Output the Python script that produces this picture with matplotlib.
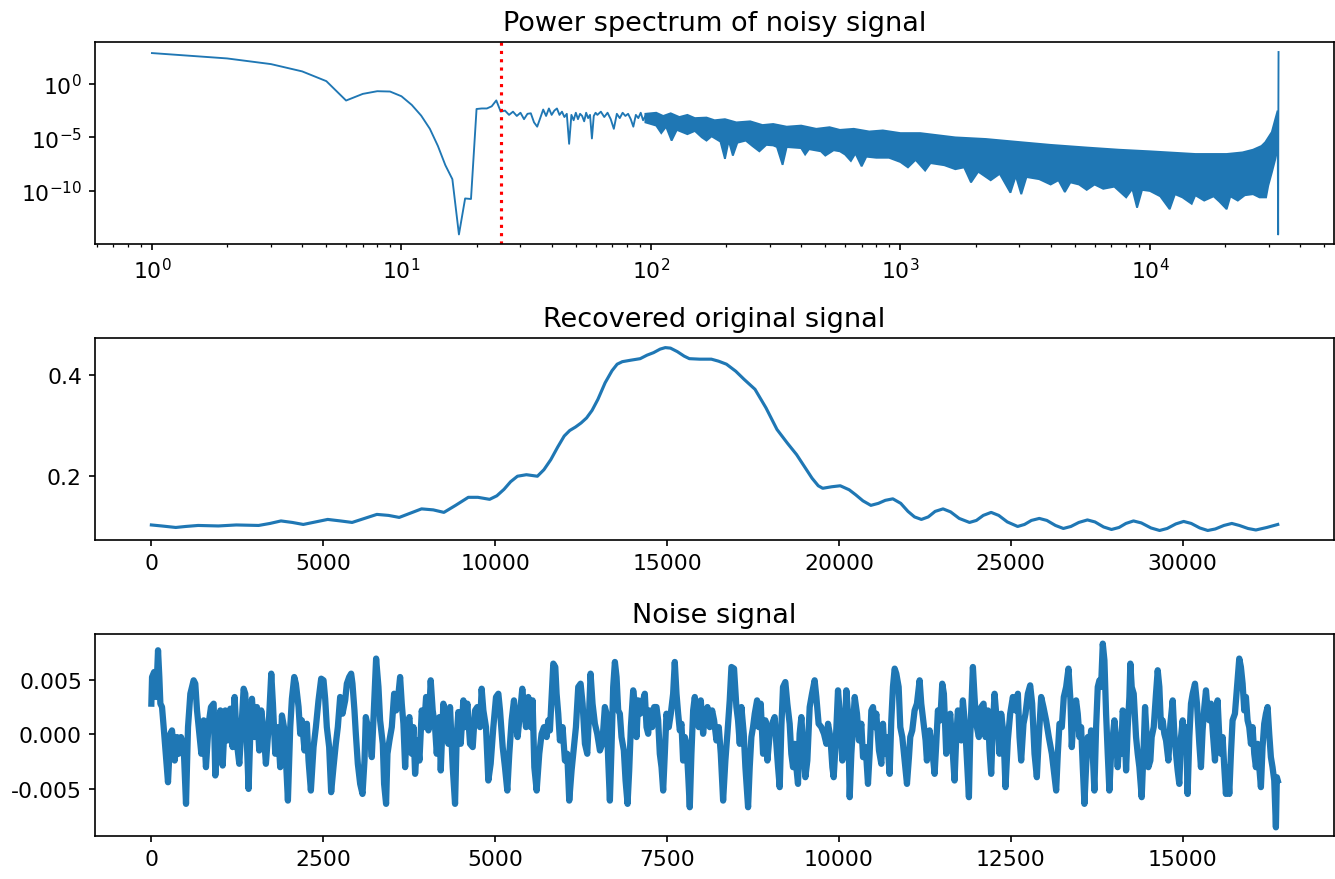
import numpy as np
import matplotlib
matplotlib.use("Agg")
import matplotlib.pyplot as plt

plt.rcParams['axes.unicode_minus'] = False

# ---------------- data ----------------
# Power spectrum: frequency bins 1..99 (log10 of power)
spec_freq = list(range(1, 61)) + list(range(61, 100, 2))
spec_log10 = [2.87, 2.37, 1.84, 1.16, 0.25, -1.56, -0.94, -0.69, -0.72, -1.16,
              -1.97, -2.97, -4.2, -5.8, -7.6, -8.9, -14.06, -10.7, -10.75, -2.35,
              -2.3, -2.3, -2.1, -1.55, -2.6, -2.5, -2.9, -2.6, -3.0, -2.7,
              -3.3, -2.8, -2.75, -3.6, -4.0, -3.2, -2.4, -3.0, -2.3, -2.9,
              -2.5, -2.3, -2.9, -2.6, -3.1, -2.8, -5.6, -2.9, -3.4, -2.7,
              -3.3, -2.8, -3.0, -3.5, -2.7, -3.2, -2.9, -5.1, -3.0, -2.7,
              -2.9, -2.6, -3.1, -2.7, -3.3, -4.2, -2.8, -3.2, -2.7, -3.0,
              -2.8, -3.3, -4.0, -2.9, -3.2, -2.7, -3.4, -3.0, -2.8, -3.3]

# dense high-frequency part: upper and lower edge of the band (log10 of power)
band_upper_freq = [95, 105, 112, 120, 130, 140, 150, 167, 180, 198, 220, 250, 280, 309,
                   350, 400, 460, 520, 572, 650, 750, 850, 1000, 1200, 1660, 2200, 3040,
                   4000, 5600, 7500, 10000, 15200, 20300, 23500, 25900, 28000, 29000,
                   30800, 31800, 32500]
band_upper_log10 = [-2.8, -2.7, -3.0, -2.75, -3.1, -2.9, -3.2, -3.15, -3.4, -3.3, -3.6,
                    -3.5, -3.85, -3.75, -4.0, -3.9, -4.2, -4.05, -4.3, -4.2, -4.45, -4.35,
                    -4.6, -4.6, -5.0, -5.15, -5.45, -5.7, -5.95, -6.15, -6.3, -6.55, -6.55,
                    -6.4, -6.15, -5.8, -5.45, -4.5, -3.3, -2.5]
band_lower_freq = [95, 105, 110, 115, 121, 127, 140, 150, 160, 167, 175, 190, 198, 205,
                   213, 222, 240, 255, 272, 290, 309, 320, 337, 350, 400, 415, 430, 480,
                   500, 540, 572, 600, 633, 660, 699, 730, 800, 900, 1000, 1072, 1150,
                   1256, 1320, 1500, 1660, 1800, 1918, 2050, 2300, 2500, 2760, 2900, 3050,
                   3200, 3600, 4000, 4300, 4560, 4800, 5200, 5580, 6000, 6500, 7200, 8030,
                   8500, 8880, 9300, 10000, 11000, 12000, 12600, 13500, 14700, 15200,
                   16500, 18000, 19000, 20300, 21000, 22500, 24000, 25900, 27500, 29200,
                   29800, 30800, 31800, 32500]
band_lower_log10 = [-3.6, -3.9, -4.6, -4.0, -5.3, -4.3, -4.7, -4.4, -5.0, -5.3, -4.9,
                    -5.4, -7.0, -5.3, -6.7, -5.5, -5.3, -5.8, -6.3, -5.7, -5.75, -5.9,
                    -7.56, -5.9, -6.0, -6.6, -6.1, -6.3, -6.7, -6.2, -6.3, -6.6, -7.2,
                    -6.5, -7.7, -6.8, -6.9, -6.9, -7.3, -7.8, -7.1, -8.1, -7.4, -7.6,
                    -7.97, -7.8, -9.2, -8.2, -9.0, -8.4, -10.16, -8.6, -10.3, -8.7, -8.9,
                    -9.4, -9.0, -10.1, -9.2, -9.4, -9.9, -9.4, -9.8, -9.6, -10.6, -9.8,
                    -11.56, -9.9, -10.0, -10.5, -11.7, -10.3, -10.6, -11.2, -10.4, -10.9,
                    -10.5, -11.0, -11.7, -10.5, -10.9, -10.4, -10.3, -10.6, -10.6, -9.5,
                    -8.28, -7.03, -6.0]
# last bins near Nyquist
edge_freq = [32500, 32650, 32700, 32767]
edge_log10 = [-3.5, -14.06, -4.5, 2.97]
cutoff_freq = 25

# Recovered original signal
recovered_x = [0, 300, 710, 1000, 1360, 1950, 2470, 3120, 3450, 3770, 4100, 4420, 4780,
               5130, 5500, 5840, 6200, 6560, 6900, 7210, 7550, 7860, 8200, 8510, 8850,
               9220, 9500, 9840, 10050, 10260, 10450, 10650, 10910, 11230, 11420, 11620,
               11820, 12010, 12170, 12340, 12500, 12660, 12820, 12990, 13200, 13400, 13550,
               13700, 13950, 14220, 14420, 14610, 14800, 14950, 15100, 15300, 15500, 15650,
               15950, 16290, 16500, 16730, 17000, 17240, 17560, 17880, 18200, 18500, 18770,
               19000, 19220, 19400, 19530, 19790, 20040, 20300, 20490, 20700, 20930, 21150,
               21350, 21570, 21800, 22010, 22200, 22400, 22600, 22800, 23030, 23250, 23500,
               23800, 24000, 24200, 24430, 24650, 24900, 25200, 25400, 25600, 25830, 26050,
               26300, 26530, 26750, 26980, 27230, 27450, 27700, 27930, 28150, 28350, 28570,
               28800, 29080, 29330, 29550, 29800, 30030, 30250, 30500, 30730, 30950, 31200,
               31430, 31650, 31900, 32130, 32450, 32767]
recovered_y = [0.102, 0.100, 0.097, 0.099, 0.101, 0.100, 0.102, 0.101, 0.105, 0.110, 0.107,
               0.103, 0.108, 0.113, 0.110, 0.107, 0.115, 0.123, 0.121, 0.117, 0.126, 0.134,
               0.132, 0.127, 0.141, 0.157, 0.157, 0.153, 0.160, 0.173, 0.188, 0.199, 0.202,
               0.199, 0.212, 0.232, 0.257, 0.279, 0.290, 0.297, 0.305, 0.315, 0.330, 0.352,
               0.385, 0.409, 0.422, 0.427, 0.430, 0.433, 0.440, 0.445, 0.452, 0.455, 0.454,
               0.447, 0.438, 0.433, 0.432, 0.432, 0.428, 0.422, 0.408, 0.392, 0.372, 0.335,
               0.292, 0.265, 0.242, 0.218, 0.195, 0.180, 0.175, 0.178, 0.180, 0.172, 0.162,
               0.150, 0.141, 0.145, 0.151, 0.154, 0.145, 0.129, 0.118, 0.113, 0.118, 0.129,
               0.134, 0.128, 0.115, 0.107, 0.111, 0.121, 0.127, 0.121, 0.108, 0.099, 0.103,
               0.111, 0.115, 0.111, 0.101, 0.095, 0.099, 0.107, 0.112, 0.108, 0.098, 0.093,
               0.097, 0.105, 0.110, 0.106, 0.096, 0.091, 0.095, 0.104, 0.109, 0.105, 0.096,
               0.091, 0.094, 0.101, 0.105, 0.101, 0.095, 0.092, 0.097, 0.103]

# Noise signal (sample index, value in units of 1e-3)
noise_index = [
    0, 10, 40, 70, 97, 116, 131, 155, 179, 213, 242, 276, 300, 339, 373, 397, 431, 470, 504,
    533, 567, 615, 639, 664, 698, 727, 761, 794, 833, 867, 906, 930, 969, 1003, 1037, 1075,
    1109, 1148, 1182, 1211, 1245, 1279, 1308, 1342, 1366, 1390, 1414, 1439, 1463, 1502, 1535,
    1569, 1598, 1632, 1666, 1705, 1744, 1768, 1802, 1840, 1874, 1899, 1937, 1986, 2020, 2044,
    2078, 2102, 2141, 2165, 2189, 2228, 2262, 2286, 2320, 2359, 2393, 2431, 2470, 2504, 2528,
    2552, 2586, 2615, 2649, 2683, 2712, 2746, 2780, 2819, 2843, 2877, 2906, 2925, 2954, 2974,
    3003, 3037, 3071, 3100, 3119,
    3182, 3206, 3240, 3269, 3303, 3327, 3366, 3385, 3414, 3434, 3463, 3497, 3531, 3560, 3594,
    3618, 3642, 3666, 3691, 3715, 3753, 3787, 3812, 3836, 3870, 3899, 3933, 3967, 3996, 4030,
    4063, 4092, 4126, 4151, 4189, 4209, 4247, 4286, 4320, 4344, 4383, 4417, 4441, 4465, 4499,
    4538, 4562, 4596, 4635, 4674, 4708, 4741, 4780, 4804, 4829, 4867, 4901, 4935, 4974, 5013,
    5047, 5071, 5110, 5143, 5177, 5206, 5240, 5274, 5303, 5327, 5361, 5395, 5420, 5449, 5482,
    5516, 5545, 5570, 5604, 5642, 5676, 5710, 5749, 5773, 5797, 5821, 5846, 5875, 5894, 5918,
    5942, 5981, 6015, 6049, 6078, 6112, 6136, 6175, 6209, 6243, 6272, 6306, 6340, 6369, 6388,
    6417, 6451, 6485, 6524,
    6558, 6596, 6621, 6645, 6669, 6693, 6717, 6742, 6766, 6790, 6814, 6838, 6872, 6897, 6926,
    6950, 6974, 7008, 7032, 7056, 7081, 7110, 7139, 7177, 7202, 7226, 7250, 7284, 7313, 7347,
    7371, 7395, 7420, 7444, 7468, 7492, 7526, 7555, 7589, 7613, 7638, 7662, 7686, 7710, 7734,
    7759, 7783, 7807, 7831, 7855, 7880, 7904, 7928, 7962, 7991, 8025, 8049, 8088, 8122, 8156,
    8185, 8219, 8253, 8282, 8316, 8349, 8378, 8412, 8437, 8475, 8509, 8533, 8558, 8582, 8616,
    8640, 8679, 8703, 8727, 8751, 8776, 8810, 8834, 8863, 8897, 8931, 8960, 8994, 9028, 9066,
    9090, 9115, 9139, 9163, 9187, 9221, 9250, 9284, 9308, 9333, 9357, 9381, 9405, 9429, 9454,
    9478, 9512, 9541, 9575, 9609, 9647, 9672, 9705, 9744, 9783,
    9818, 9842, 9876, 9905, 9924, 9953, 9987, 10021, 10050, 10084, 10108, 10133, 10157, 10181,
    10205, 10230, 10263, 10292, 10326, 10351, 10389, 10423, 10447, 10472, 10496, 10520, 10544,
    10583, 10617, 10641, 10665, 10690, 10714, 10738, 10762, 10786, 10811, 10835, 10869, 10893,
    10922, 10956, 10990, 11019, 11038, 11067, 11101, 11135, 11174, 11198, 11232, 11261, 11280,
    11319, 11353, 11392, 11416, 11440, 11474, 11503, 11527, 11561, 11586, 11619, 11648, 11682,
    11707, 11731, 11755, 11779, 11803, 11837, 11862, 11891, 11910, 11934, 11949, 11973, 11997,
    12036, 12070, 12104, 12133, 12167, 12191, 12215, 12239, 12264, 12288, 12312, 12336, 12360,
    12394, 12423, 12457, 12491, 12530, 12569, 12603, 12627, 12651, 12685, 12714, 12748, 12782,
    12811, 12845, 12879, 12908, 12942, 12975, 13014, 13053,
    13097, 13126, 13160, 13184, 13208, 13242, 13271, 13305, 13339, 13368, 13387, 13416, 13450,
    13474, 13499, 13523, 13547, 13571, 13595, 13620, 13644, 13668, 13692, 13716, 13741, 13765,
    13789, 13813, 13838, 13862, 13886, 13910, 13934, 13959, 13983, 14007, 14031, 14055, 14080,
    14104, 14128, 14152, 14177, 14201, 14225, 14239, 14259, 14288, 14322, 14346, 14370, 14404,
    14433, 14453, 14482, 14501, 14530, 14549, 14579, 14612, 14637, 14661, 14685, 14709, 14733,
    14758, 14792, 14821, 14855, 14879, 14903, 14927, 14951, 14976, 15000, 15024, 15048, 15072,
    15097, 15121, 15145, 15179, 15208, 15242, 15266, 15290, 15315, 15339, 15363, 15387, 15412,
    15436, 15470, 15508, 15533, 15557, 15581, 15605, 15629, 15654, 15678, 15702, 15726, 15760,
    15799, 15823, 15847, 15872, 15896, 15920, 15944, 15968, 15993, 16017, 16041, 16065, 16090,
    16114, 16138, 16162, 16186, 16211, 16235, 16259, 16283, 16307, 16332, 16356, 16370, 16383]
noise_milli = [
    2.82, 5.26, 5.72, 3.43, 7.71, 5.26, 2.82, 2.51, 0.67, -2.08, -4.38, 0.06, 0.37, -2.39, -0.24,
    -1.77, -0.24, -1.16, -6.36, 0.67, 3.73, 4.96, 4.65, 2.20, 0.06, -1.77, 1.29, -3.00, 0.98,
    2.51, 2.82, -3.76, 0.06, 2.20, -2.85, 2.20, -0.55, 2.36, -1.16, 3.43, -0.86, -2.69, 0.37,
    4.19, 3.73, -0.86, -4.99, 0.06, 3.27, -0.24, 2.51, -1.47, 2.20, 0.37, -2.69, 0.67, 5.57,
    2.82, -1.77, 0.67, -3.00, 1.74, 0.37, -6.06, 0.67, 3.27, 5.26, 4.65, 2.51, 0.06, 1.29,
    -1.47, 0.98, -2.39, -5.14, -1.16, 0.67, 3.12, 5.11, 4.96, 3.27, 0.67, -1.16, -5.29, -3.00,
    -0.86, 0.67, 3.43, 1.90, 3.12, 4.65, 5.26, 5.57, 4.65, 2.20, 0.06, -2.69, -4.53, -5.45,
    -2.39, 1.59,
    -0.24, -2.08, 2.82, 6.95, 4.35, 1.29, -0.86, -4.53, -6.36, -1.77, -0.55, 0.67, 3.73, 2.20,
    3.73, 5.26, 2.82, 0.98, -3.00, 0.67, 1.59, -1.77, 0.67, -3.61, -0.55, -2.39, 2.20, 0.67,
    3.43, 0.37, 4.96, 2.20, 0.67, -1.77, 1.59, -3.30, 2.82, 0.06, -0.86, 2.51, -3.00, -6.36,
    -0.24, 2.05, -0.86, 3.12, 0.67, 2.82, -0.86, -1.16, 2.20, 2.51, 0.67, 4.19, 2.20, 0.67,
    -4.22, -2.69, 0.67, 3.43, 3.73, 2.20, -1.16, -3.00, -5.14, -1.77, 1.29, 3.12, 0.98, -0.24,
    1.90, 4.19, 2.51, 0.67, 3.43, 0.67, 3.12, -3.00, -5.14, -1.77, 0.06, 0.67, -0.24, 1.29,
    0.37, 3.43, 6.49, 6.18, 3.73, 1.90, -0.55, 0.67, -2.39, -1.77, -6.06, -3.30, -1.77, 0.67,
    4.35, 4.65, 2.82, -0.86, -1.77, 2.36, 5.57, 2.82, 0.98, 0.06, -1.47,
    -0.86, 2.51, 1.90, -2.39, -6.06, -1.16, 4.35, 6.64, 5.26, 2.20, 1.90, -0.24, -1.47, -4.22,
    -6.36, -3.30, 0.67, 4.04, 2.82, -0.24, 3.12, 1.90, 2.82, 3.73, 0.67, 0.06, 2.20, 0.67,
    2.51, 2.51, 1.29, -1.77, -3.00, -5.14, -1.77, 1.90, 0.67, 1.90, 3.73, 6.64, 3.73, 1.90,
    0.37, 0.98, -2.39, -0.24, -0.86, -3.61, -6.67, -1.77, 2.20, 3.43, 1.90, 0.67, 3.12, 0.06,
    1.59, 2.51, 0.67, 2.20, 1.29, -0.55, 0.67, -1.77, -6.06, -2.39, 0.06, 3.12, 6.18, 6.03,
    2.51, 1.29, -0.86, 2.51, 0.06, -3.00, -6.67, -3.00, -0.24, 0.67, 1.90, 3.12, 0.67, 2.82,
    -1.77, 1.29, -2.39, 0.06, 0.98, 1.59, -0.86, -3.00, -4.83, 0.67, 4.35, 4.80, 2.82, 0.98,
    -1.77, -3.00, -0.86, -3.00, -4.53, 0.06, 1.59, -0.86, -3.92, -2.39, 2.51, 3.73, 4.96, 3.43,
    0.98, 0.67, 0.06,
    -0.86, 0.98, -0.24, -3.00, -3.92, -0.86, 4.04, 1.29, -2.39, -0.24, 4.04, 1.90, -5.75, -1.77,
    0.67, 3.43, 1.90, -0.55, 0.98, -2.08, -1.16, -4.53, -1.77, 2.20, 2.51, 0.67, 1.90, -1.47,
    -2.69, 0.98, -1.77, -0.24, -1.47, -3.61, 1.29, 4.35, 6.03, 5.57, 4.35, 0.67, -0.24, -2.39,
    -4.53, -2.08, -0.24, 0.37, 2.20, 2.82, 4.96, 2.82, 0.98, -0.55, -2.39, 0.37, -1.16, -3.61,
    -0.86, 2.20, 1.29, 4.65, 3.73, -1.77, 0.37, 1.90, -0.86, -4.22, -0.24, 2.20, 0.98, -0.55,
    3.12, 0.67, -2.39, -5.75, -0.24, 3.73, 6.18, 3.43, 0.98, -0.24, 2.51, 2.82, -0.24, 2.20,
    -1.47, -3.61, 0.67, 3.73, 1.90, 0.98, -1.77, 1.90, 0.06, -4.83, -0.55, 1.90, 3.43, 2.20,
    3.73, -0.24, -2.39, 0.98, 1.90, 3.73, 4.50, 2.82, -1.77, -3.92, -0.24, 3.43, 2.51, 1.29,
    -0.24,
    -1.77, -3.30, -5.14, -1.77, 0.98, 0.67, 3.43, 4.35, 6.03, 3.12, -1.16, 1.90, 3.12, 1.90,
    -0.24, 0.67, -3.00, -6.36, -3.00, -0.24, -1.77, 0.37, -1.77, -5.14, 0.67, 4.35, 4.96, 4.35,
    8.32, 6.79, 1.90, -1.77, -5.14, -1.77, -0.24, 1.29, -0.24, -3.00, -0.24, -1.77, 2.20, 1.29,
    -3.30, 0.67, 3.43, 6.49, 4.35, 3.73, -0.24, -1.77, -3.00, -5.75, -1.16, 2.51, -0.86, -3.00,
    -2.39, -0.24, 0.67, 3.73, 5.88, 4.35, 0.67, 1.29, 0.06, -0.55, -2.39, 0.98, 3.12, 0.06,
    -1.77, -3.30, -4.53, -0.24, 1.29, -0.86, 0.67, -5.45, -0.24, 2.82, 3.73, 4.65, 2.82, -0.86,
    -3.00, 0.37, 2.51, 4.04, 2.20, 1.29, 2.82, 0.37, -2.39, 3.12, -0.24, -1.77, -0.24, -3.00,
    -5.45, -3.00, -5.45, -1.77, 1.29, 1.90, 4.96, 6.95, 6.18, 4.65, 2.20, 3.43, 1.29, 0.67,
    -0.86, 0.67, -1.77, -3.00, -0.86, -3.00, -4.83, -1.16, 0.98, 1.90, 2.51, 0.06, -2.08, -3.00,
    -4.22, -8.51, -3.92, -4.22]

titles = ["Power spectrum of noisy signal", "Recovered original signal", "Noise signal"]

# ---------------- figure ----------------
fig = plt.figure(figsize=(1335 / 150, 880 / 150), dpi=150)
left, width, height = 0.0712, 0.9281, 0.2295
ax1 = fig.add_axes([left, 0.7216, width, height])
ax2 = fig.add_axes([left, 0.3852, width, height])
ax3 = fig.add_axes([left, 0.0489, width, height])

blue = '#1f77b4'

# Power spectrum
band_f = np.concatenate([band_upper_freq, band_lower_freq[::-1]])
band_p = 10.0 ** np.concatenate([band_upper_log10, band_lower_log10[::-1]])
ax1.fill(band_f, band_p, color=blue, lw=0.9, ec=blue)
ax1.plot(spec_freq, 10.0 ** np.array(spec_log10), color=blue, lw=0.9)
ax1.plot(edge_freq, 10.0 ** np.array(edge_log10), color=blue, lw=0.9)
ax1.axvline(cutoff_freq, color='red', linestyle=':', lw=1.5)
ax1.set_xscale('log')
ax1.set_yscale('log')
ax1.set_xlim(10 ** -0.228, 10 ** 4.738)
ax1.set_ylim(10 ** -14.95, 10 ** 3.9)
ax1.set_yticks([1e-10, 1e-5, 1e0])
ax1.yaxis.set_minor_locator(matplotlib.ticker.NullLocator())

# Recovered signal
ax2.plot(recovered_x, recovered_y, color=blue, lw=1.5)
ax2.set_xlim(-1638, 34405)
ax2.set_ylim(0.072, 0.474)
ax2.set_yticks([0.2, 0.4])
ax2.set_xticks(np.arange(0, 30001, 5000))

# Noise signal
ax3.plot(noise_index, np.array(noise_milli) * 1e-3, color=blue, lw=3.0)
ax3.set_xlim(-819, 17202)
ax3.set_ylim(-0.0093, 0.0092)
ax3.set_yticks([-0.005, 0.0, 0.005])
ax3.set_xticks(np.arange(0, 15001, 2500))
ax3.yaxis.set_major_formatter(matplotlib.ticker.FormatStrFormatter('%.3f'))

for ax, t in zip([ax1, ax2, ax3], titles):
    ax.set_title(t, fontsize=13, pad=6)
    ax.tick_params(which='major', length=2.8, labelsize=10.5, pad=3.5)
    ax.tick_params(which='minor', length=1.6)

fig.savefig('out.png', dpi=150)
